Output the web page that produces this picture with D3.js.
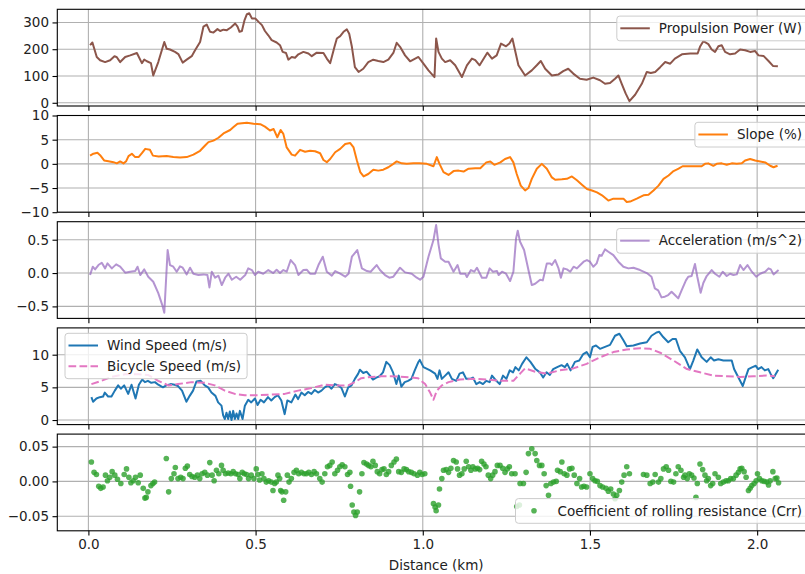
<!DOCTYPE html>
<html>
<head>
<meta charset="utf-8">
<script src="https://cdn.jsdelivr.net/npm/d3@7"></script>
<style>
  body { margin: 0; background: #fff; }
  svg text { font-family: "DejaVu Sans", sans-serif; fill: #222; }
</style>
</head>
<body>
<svg id="chart"></svg>
<script>
// ---- data, [distance km, value] ----
const powerData = [[0.005,215],[0.012,225],[0.025,171],[0.035,159],[0.05,152],[0.065,159],[0.078,174],[0.085,170],[0.095,152],[0.11,171],[0.125,177],[0.145,186],[0.16,148],[0.167,161],[0.175,155],[0.187,148],[0.194,102],[0.209,152],[0.227,227],[0.234,202],[0.244,199],[0.259,190],[0.269,182],[0.282,150],[0.294,161],[0.309,174],[0.319,196],[0.334,227],[0.344,284],[0.354,292],[0.364,265],[0.374,262],[0.386,275],[0.394,268],[0.404,273],[0.414,271],[0.426,281],[0.439,296],[0.446,284],[0.452,265],[0.459,268],[0.467,309],[0.474,331],[0.481,334],[0.489,315],[0.499,315],[0.509,302],[0.519,290],[0.528,268],[0.538,252],[0.548,234],[0.563,225],[0.573,215],[0.581,190],[0.591,186],[0.598,161],[0.608,171],[0.618,168],[0.628,181],[0.643,190],[0.658,184],[0.668,174],[0.683,187],[0.703,186],[0.713,165],[0.723,148],[0.736,209],[0.743,240],[0.753,249],[0.763,265],[0.773,274],[0.78,258],[0.788,209],[0.797,133],[0.808,115],[0.822,127],[0.837,152],[0.852,161],[0.867,156],[0.882,152],[0.897,161],[0.912,186],[0.922,224],[0.932,209],[0.947,177],[0.962,155],[0.987,171],[1.002,146],[1.017,121],[1.035,96],[1.04,240],[1.047,190],[1.057,165],[1.067,152],[1.082,159],[1.097,140],[1.117,96],[1.132,140],[1.147,165],[1.157,159],[1.17,140],[1.193,187],[1.207,165],[1.221,177],[1.234,221],[1.249,211],[1.259,221],[1.268,240],[1.286,140],[1.306,102],[1.326,121],[1.341,140],[1.353,156],[1.366,127],[1.386,102],[1.406,106],[1.42,118],[1.435,127],[1.45,109],[1.47,90],[1.49,86],[1.51,94],[1.53,84],[1.545,71],[1.56,74],[1.575,90],[1.585,102],[1.595,71],[1.607,34],[1.618,6],[1.635,30],[1.655,71],[1.67,115],[1.682,111],[1.695,115],[1.71,133],[1.725,152],[1.74,146],[1.754,165],[1.775,181],[1.8,184],[1.822,184],[1.829,209],[1.839,230],[1.854,219],[1.864,199],[1.874,190],[1.884,211],[1.894,215],[1.904,190],[1.919,181],[1.934,184],[1.949,199],[1.964,196],[1.979,190],[1.994,193],[2.004,177],[2.019,175],[2.034,156],[2.048,137],[2.062,136]];

const slopeData = [[0.005,1.7],[0.015,2.1],[0.027,2.3],[0.035,1.8],[0.047,0.7],[0.06,0.55],[0.075,0.35],[0.085,0.1],[0.095,0.5],[0.105,0.1],[0.113,0.55],[0.12,1.6],[0.13,2.1],[0.14,1.4],[0.15,1.4],[0.16,2.2],[0.17,3.1],[0.184,2.9],[0.193,1.7],[0.21,1.5],[0.234,1.6],[0.254,1.4],[0.274,1.3],[0.294,1.4],[0.314,1.9],[0.334,2.7],[0.349,3.8],[0.359,4.5],[0.374,4.8],[0.389,5.4],[0.404,6.3],[0.424,7.0],[0.434,7.6],[0.446,8.3],[0.459,8.4],[0.474,8.5],[0.494,8.3],[0.514,8.2],[0.528,7.7],[0.543,6.9],[0.554,7.2],[0.565,5.5],[0.575,7.0],[0.583,6.2],[0.593,3.4],[0.608,1.9],[0.618,1.7],[0.633,2.9],[0.648,2.5],[0.663,2.7],[0.678,2.6],[0.693,2.2],[0.703,0.8],[0.713,0.35],[0.723,1.0],[0.738,2.4],[0.753,3.1],[0.768,4.1],[0.783,4.3],[0.793,3.4],[0.803,0.7],[0.813,-1.7],[0.823,-2.6],[0.837,-2.1],[0.852,-1.2],[0.867,-1.4],[0.882,-1.2],[0.897,-0.7],[0.912,0],[0.922,0.5],[0.937,0.1],[0.952,0],[0.972,0.1],[0.99,0.1],[1.012,0],[1.032,-0.5],[1.042,1.4],[1.05,0],[1.062,-1.7],[1.077,-2.3],[1.092,-1.5],[1.107,-1.4],[1.122,-1.6],[1.137,-1.0],[1.157,-0.9],[1.172,-0.9],[1.19,0.3],[1.202,0.5],[1.214,-0.2],[1.232,0.3],[1.246,1.0],[1.261,1.4],[1.271,0.3],[1.281,-2.1],[1.293,-4.5],[1.306,-5.5],[1.316,-5.0],[1.326,-3.1],[1.341,-1.0],[1.356,0],[1.371,-1.0],[1.386,-2.8],[1.396,-3.3],[1.416,-3.2],[1.431,-3.1],[1.446,-2.6],[1.461,-3.4],[1.476,-4.3],[1.491,-5.2],[1.506,-5.5],[1.521,-5.9],[1.536,-6.5],[1.555,-7.6],[1.57,-7.2],[1.585,-7.2],[1.6,-7.2],[1.61,-7.9],[1.62,-7.8],[1.64,-7.2],[1.66,-6.5],[1.675,-6.4],[1.69,-5.5],[1.705,-4.5],[1.72,-3.1],[1.735,-2.4],[1.75,-1.5],[1.765,-1.0],[1.777,-0.5],[1.794,-0.5],[1.814,-0.5],[1.834,-0.5],[1.844,0],[1.854,0.1],[1.869,-0.4],[1.879,0],[1.894,0.1],[1.909,-0.2],[1.924,0.1],[1.939,0],[1.954,0.1],[1.964,0.7],[1.979,1.0],[1.994,0.7],[2.009,0.5],[2.024,0.3],[2.039,-0.4],[2.049,-0.7],[2.061,-0.4]];

const accelData = [[0.005,-0.03],[0.013,0.095],[0.02,0.055],[0.03,0.12],[0.04,0.155],[0.05,0.07],[0.057,0.145],[0.07,0.07],[0.083,0.13],[0.095,0.095],[0.11,0.005],[0.125,0.02],[0.14,0.03],[0.147,0.095],[0.155,-0.03],[0.167,0.055],[0.179,-0.055],[0.194,-0.13],[0.209,-0.3],[0.221,-0.48],[0.227,-0.595],[0.237,0.345],[0.244,0.12],[0.254,0.095],[0.264,0.02],[0.274,0.1],[0.282,0.08],[0.294,-0.02],[0.304,0.08],[0.314,-0.01],[0.329,-0.03],[0.344,-0.02],[0.356,-0.03],[0.362,-0.215],[0.369,0.02],[0.379,-0.07],[0.389,-0.04],[0.399,-0.18],[0.409,-0.07],[0.419,-0.01],[0.429,-0.1],[0.442,-0.055],[0.454,-0.1],[0.469,-0.03],[0.478,0.07],[0.489,0.045],[0.498,-0.03],[0.508,0.02],[0.523,-0.01],[0.538,0.045],[0.553,0],[0.563,0.05],[0.573,0],[0.583,0.045],[0.593,0.02],[0.605,0.195],[0.618,0.12],[0.628,-0.03],[0.643,0.045],[0.653,0.05],[0.663,-0.01],[0.678,-0.01],[0.688,0.12],[0.701,0.245],[0.713,0.02],[0.728,-0.04],[0.738,0.03],[0.753,-0.01],[0.768,-0.055],[0.778,-0.01],[0.788,0.245],[0.804,0.345],[0.818,0.07],[0.833,0.03],[0.844,0.02],[0.862,0.12],[0.872,0.045],[0.887,-0.03],[0.9,-0.07],[0.912,-0.055],[0.932,0.08],[0.947,0.01],[0.967,-0.01],[0.982,-0.07],[0.992,-0.1],[1.002,-0.055],[1.017,0.245],[1.032,0.495],[1.04,0.72],[1.047,0.43],[1.054,0.22],[1.067,0.17],[1.077,0.17],[1.092,0.02],[1.104,0.12],[1.112,-0.01],[1.127,-0.01],[1.132,-0.06],[1.144,0.045],[1.154,0.02],[1.162,0.08],[1.177,-0.07],[1.19,-0.07],[1.2,0.07],[1.21,0.02],[1.222,0.03],[1.227,-0.03],[1.237,0.02],[1.249,-0.01],[1.261,-0.12],[1.271,0.02],[1.279,0.52],[1.284,0.635],[1.291,0.47],[1.303,0.345],[1.316,0.045],[1.326,-0.18],[1.336,-0.16],[1.351,-0.1],[1.359,-0.11],[1.371,0.145],[1.381,0.145],[1.386,0.12],[1.396,0.195],[1.406,0.07],[1.413,-0.07],[1.421,0.07],[1.431,0.055],[1.441,0.02],[1.451,0.095],[1.461,0.07],[1.471,0.12],[1.481,0.17],[1.491,0.195],[1.5,0.17],[1.51,0.095],[1.52,0.145],[1.528,0.27],[1.535,0.26],[1.545,0.355],[1.555,0.32],[1.57,0.27],[1.585,0.17],[1.6,0.095],[1.615,0.07],[1.63,0.08],[1.65,0.045],[1.67,0],[1.684,-0.055],[1.694,-0.23],[1.704,-0.26],[1.714,-0.365],[1.724,-0.355],[1.734,-0.33],[1.744,-0.28],[1.754,-0.33],[1.764,-0.38],[1.774,-0.26],[1.787,-0.11],[1.794,-0.055],[1.804,-0.045],[1.814,0.135],[1.821,-0.055],[1.831,-0.295],[1.839,-0.15],[1.849,-0.045],[1.864,0.045],[1.874,-0.01],[1.887,-0.055],[1.897,0.02],[1.909,-0.045],[1.919,-0.01],[1.929,-0.03],[1.939,-0.02],[1.949,0.12],[1.959,0.045],[1.971,0.12],[1.984,0.02],[1.997,-0.055],[2.009,-0.01],[2.024,0.02],[2.034,0.07],[2.041,0.055],[2.049,-0.02],[2.064,0.045]];

const windData = [[0.009,3.5],[0.014,2.8],[0.024,3.3],[0.034,3.5],[0.044,3.6],[0.049,4.2],[0.059,3.6],[0.069,3.6],[0.079,4.5],[0.089,5.3],[0.097,4.8],[0.107,5.3],[0.119,4.0],[0.129,5.4],[0.141,3.3],[0.151,5.4],[0.161,6.2],[0.169,5.8],[0.178,6.0],[0.188,5.7],[0.199,5.8],[0.209,5.4],[0.223,5.0],[0.233,5.3],[0.246,5.5],[0.258,5.4],[0.268,5.2],[0.28,4.5],[0.293,2.8],[0.303,3.7],[0.313,4.5],[0.323,5.9],[0.336,6.0],[0.348,5.3],[0.358,5.0],[0.368,4.2],[0.38,3.7],[0.388,2.7],[0.398,2.2],[0.403,0.7],[0.408,0.15],[0.413,1.1],[0.418,0.15],[0.423,1.3],[0.428,0.0],[0.433,1.4],[0.438,0.15],[0.443,1.0],[0.448,0.15],[0.453,1.4],[0.461,0.15],[0.468,2.2],[0.478,3.1],[0.487,2.7],[0.498,3.3],[0.506,2.3],[0.515,3.1],[0.525,2.7],[0.537,3.5],[0.547,3.0],[0.557,3.5],[0.567,3.8],[0.577,3.0],[0.587,0.9],[0.595,3.0],[0.607,2.7],[0.619,3.9],[0.627,3.2],[0.637,4.2],[0.647,3.8],[0.657,4.3],[0.667,4.0],[0.677,4.6],[0.687,4.2],[0.697,4.5],[0.707,5.0],[0.717,5.3],[0.727,4.8],[0.737,5.5],[0.747,5.3],[0.757,4.9],[0.767,3.6],[0.777,5.0],[0.787,5.3],[0.797,6.3],[0.807,7.1],[0.812,7.7],[0.822,7.2],[0.832,7.4],[0.842,6.8],[0.851,6.2],[0.861,6.5],[0.871,6.7],[0.881,7.3],[0.891,8.9],[0.901,8.4],[0.911,7.3],[0.921,5.5],[0.928,6.8],[0.936,5.1],[0.946,5.8],[0.956,6.0],[0.966,6.3],[0.976,7.6],[0.986,8.8],[0.991,9.2],[1.002,8.1],[1.022,7.6],[1.037,7.1],[1.044,6.3],[1.05,7.6],[1.057,6.3],[1.067,6.8],[1.077,7.3],[1.087,6.3],[1.1,6.0],[1.11,7.1],[1.12,7.3],[1.13,6.3],[1.142,6.3],[1.15,6.5],[1.16,5.5],[1.17,5.8],[1.18,5.5],[1.19,6.0],[1.2,5.8],[1.207,6.8],[1.22,6.0],[1.23,5.5],[1.24,6.8],[1.25,6.3],[1.26,7.6],[1.27,7.3],[1.277,8.1],[1.287,7.6],[1.297,8.6],[1.31,9.6],[1.322,8.9],[1.337,7.8],[1.35,7.3],[1.36,6.5],[1.37,7.3],[1.38,6.9],[1.39,7.8],[1.402,8.1],[1.415,8.4],[1.425,8.1],[1.432,8.6],[1.442,7.6],[1.455,8.9],[1.468,9.1],[1.48,10.1],[1.49,10.4],[1.5,9.6],[1.508,11.2],[1.518,11.4],[1.53,10.9],[1.545,11.2],[1.56,11.5],[1.575,12.9],[1.588,13.2],[1.6,12.2],[1.61,11.3],[1.63,11.4],[1.65,11.7],[1.67,11.9],[1.684,12.9],[1.699,13.4],[1.707,13.5],[1.719,12.7],[1.734,11.9],[1.747,12.4],[1.757,12.4],[1.769,10.6],[1.784,9.6],[1.799,7.8],[1.809,9.1],[1.821,10.8],[1.834,9.6],[1.849,8.9],[1.861,9.6],[1.871,9.1],[1.884,9.3],[1.899,9.1],[1.924,9.1],[1.931,7.8],[1.944,6.5],[1.957,5.2],[1.964,6.3],[1.974,7.8],[1.986,8.1],[1.996,8.3],[2.003,7.8],[2.013,8.1],[2.023,7.6],[2.033,7.8],[2.04,7.1],[2.048,6.4],[2.053,6.8],[2.063,7.7]];

const bikeData = [[0.009,5.5],[0.039,6.0],[0.069,6.6],[0.109,7.0],[0.149,7.0],[0.178,6.9],[0.209,6.0],[0.239,5.3],[0.268,5.5],[0.308,5.8],[0.348,5.7],[0.378,5.3],[0.408,4.5],[0.438,4.0],[0.468,3.8],[0.508,3.8],[0.547,3.9],[0.587,4.0],[0.627,4.5],[0.667,4.9],[0.707,5.4],[0.747,5.3],[0.777,5.3],[0.797,5.8],[0.816,6.4],[0.846,6.6],[0.876,6.7],[0.906,6.7],[0.946,6.6],[0.986,6.4],[1.007,5.5],[1.022,4.2],[1.032,3.1],[1.042,4.5],[1.057,5.3],[1.077,5.8],[1.112,6.2],[1.152,6.3],[1.192,6.2],[1.231,6.0],[1.271,6.0],[1.291,7.1],[1.306,7.9],[1.336,7.4],[1.37,7.1],[1.41,7.6],[1.45,7.9],[1.49,8.6],[1.53,9.6],[1.57,10.4],[1.61,10.8],[1.65,11.0],[1.68,10.9],[1.71,10.3],[1.75,9.1],[1.79,7.8],[1.829,7.3],[1.869,6.8],[1.909,6.7],[1.949,6.6],[1.989,6.7],[2.028,6.8],[2.053,6.7]];

const crrData = [[0.009,0.028],[0.017,0.013],[0.024,0.010],[0.031,-0.007],[0.037,-0.010],[0.044,-0.008],[0.051,0.009],[0.057,0.001],[0.064,0.006],[0.071,0.014],[0.079,0.009],[0.087,0.003],[0.097,-0.003],[0.107,0.010],[0.114,0.018],[0.121,0.006],[0.127,-0.002],[0.134,0.001],[0.141,0.006],[0.149,-0.002],[0.155,0.009],[0.164,-0.010],[0.169,-0.024],[0.173,-0.023],[0.178,-0.015],[0.187,-0.006],[0.193,-0.003],[0.198,-0.001],[0.233,0.033],[0.240,-0.015],[0.248,0.004],[0.256,0.011],[0.260,0.020],[0.268,0.004],[0.276,0.006],[0.283,0.004],[0.290,0.019],[0.296,0.022],[0.303,0.010],[0.310,0.007],[0.318,0.006],[0.326,0.009],[0.333,0.004],[0.340,0.011],[0.348,0.013],[0.356,0.009],[0.363,0.027],[0.370,0.009],[0.376,0.001],[0.383,0.016],[0.390,0.011],[0.398,0.023],[0.403,0.016],[0.410,0.011],[0.418,0.012],[0.426,0.011],[0.433,0.014],[0.440,0.011],[0.448,0.010],[0.453,0.004],[0.460,0.013],[0.466,0.011],[0.473,0.010],[0.479,0.004],[0.487,0.009],[0.495,0.004],[0.502,0.018],[0.507,0.010],[0.512,0.002],[0.519,0.011],[0.525,0.004],[0.532,-0.001],[0.539,0.001],[0.547,-0.001],[0.552,-0.013],[0.557,-0.003],[0.562,-0.001],[0.567,0.009],[0.572,0.004],[0.575,-0.013],[0.579,-0.015],[0.584,-0.027],[0.590,-0.015],[0.595,0.009],[0.600,-0.001],[0.607,0.004],[0.615,0.013],[0.622,0.016],[0.629,0.011],[0.637,0.013],[0.645,0.011],[0.652,0.011],[0.659,0.013],[0.667,0.010],[0.675,0.014],[0.682,0.011],[0.692,0.004],[0.699,-0.001],[0.707,0.011],[0.715,0.021],[0.722,0.023],[0.729,0.028],[0.737,0.011],[0.745,0.016],[0.752,0.021],[0.759,0.024],[0.767,0.021],[0.775,0.010],[0.782,0.013],[0.784,-0.007],[0.789,-0.034],[0.794,-0.044],[0.799,-0.049],[0.804,-0.044],[0.811,-0.015],[0.818,0.011],[0.824,0.027],[0.832,0.025],[0.838,0.023],[0.845,0.021],[0.851,0.029],[0.858,0.023],[0.864,0.014],[0.871,0.011],[0.878,0.017],[0.884,0.018],[0.891,0.010],[0.898,0.014],[0.906,0.023],[0.914,0.028],[0.921,0.032],[0.928,0.014],[0.936,0.013],[0.944,0.018],[0.951,0.017],[0.958,0.014],[0.966,0.013],[0.974,0.011],[0.984,0.009],[0.991,0.013],[0.998,0.010],[1.006,0.011],[1.032,-0.032],[1.037,-0.037],[1.040,-0.042],[1.047,-0.034],[1.050,-0.011],[1.057,0.004],[1.062,0.016],[1.070,0.017],[1.077,0.013],[1.084,0.019],[1.092,0.030],[1.100,0.028],[1.104,0.018],[1.110,0.009],[1.117,0.011],[1.124,0.018],[1.130,0.029],[1.137,0.021],[1.144,0.016],[1.150,0.021],[1.157,0.018],[1.164,0.019],[1.170,0.017],[1.176,0.029],[1.183,0.025],[1.189,0.021],[1.196,0.009],[1.203,0.004],[1.209,0.009],[1.216,0.014],[1.223,0.023],[1.231,0.023],[1.239,0.019],[1.246,0.013],[1.253,0.018],[1.259,0.021],[1.266,0.011],[1.276,0.011],[1.281,-0.036],[1.289,-0.034],[1.291,-0.003],[1.301,-0.003],[1.309,0.013],[1.316,0.040],[1.326,0.047],[1.336,0.040],[1.341,0.030],[1.349,0.023],[1.356,0.023],[1.363,0.011],[1.369,-0.006],[1.376,-0.020],[1.383,-0.003],[1.391,-0.001],[1.399,0.000],[1.403,0.016],[1.411,0.014],[1.416,0.028],[1.423,0.011],[1.431,0.009],[1.439,0.018],[1.446,0.019],[1.453,0.009],[1.461,-0.003],[1.469,0.004],[1.475,-0.008],[1.482,-0.007],[1.490,-0.008],[1.500,0.011],[1.508,0.004],[1.515,0.001],[1.522,0.000],[1.530,-0.006],[1.538,-0.008],[1.548,-0.010],[1.555,-0.014],[1.562,-0.011],[1.570,-0.018],[1.575,-0.025],[1.580,-0.020],[1.588,-0.013],[1.595,-0.001],[1.602,0.009],[1.610,0.021],[1.618,0.011],[1.660,0.010],[1.670,0.009],[1.680,-0.003],[1.688,-0.001],[1.695,0.010],[1.705,-0.001],[1.712,0.004],[1.720,0.018],[1.728,0.021],[1.735,0.016],[1.742,0.000],[1.750,-0.001],[1.757,0.011],[1.764,0.021],[1.772,0.016],[1.780,0.006],[1.784,0.009],[1.791,0.004],[1.797,0.011],[1.804,0.009],[1.811,0.005],[1.817,-0.023],[1.821,-0.003],[1.829,0.025],[1.837,0.017],[1.844,0.009],[1.849,0.001],[1.854,0.004],[1.861,-0.006],[1.867,-0.003],[1.874,0.011],[1.884,0.006],[1.891,-0.003],[1.899,-0.001],[1.907,0.001],[1.914,0.001],[1.921,0.004],[1.929,0.004],[1.937,0.009],[1.944,0.013],[1.949,0.018],[1.954,0.019],[1.961,0.014],[1.967,0.006],[1.974,-0.013],[1.979,-0.010],[1.984,-0.006],[1.991,-0.003],[1.997,0.001],[2.001,0.011],[2.007,0.004],[2.014,0.001],[2.021,0.000],[2.029,-0.001],[2.034,-0.005],[2.039,0.001],[2.047,0.014],[2.054,0.004],[2.059,0.005],[2.064,-0.002]];

// ticks
const xTicks = [0, 0.5, 1, 1.5, 2];
const powerTicks = [0, 100, 200, 300];
const slopeTicks = [-10, -5, 0, 5, 10];
const accelTicks = [-0.5, 0, 0.5];
const speedTicks = [0, 5, 10];
const crrTicks = [-0.05, 0, 0.05];

// ---- layout ----
const width = 805, height = 574;
const plotLeft = 57.3, plotRight = 815;
const panelTop0 = 9.3, panelStep = 106.2, panelH = 96.7;
const fontSize = 13.5;

const svg = d3.select('#chart')
    .attr('width', width)
    .attr('height', height);

const xScale = d3.scaleLinear()
    .domain([-0.093, 2.173])
    .range([plotLeft, plotRight]);

const panels = [
  {domain: [-12, 349], ticks: powerTicks, fmt: d3.format('d'), legendPos: 'ur',
   series: [{data: powerData, color: '#8c564b', label: 'Propulsion Power (W)', kind: 'line'}]},
  {domain: [-10, 10], ticks: slopeTicks, fmt: d3.format('d'), legendPos: 'ur',
   series: [{data: slopeData, color: '#ff7f0e', label: 'Slope (%)', kind: 'line'}]},
  {domain: [-0.68, 0.77], ticks: accelTicks, fmt: d3.format('.1f'), legendPos: 'ur',
   series: [{data: accelData, color: '#9467bd', opacity: 0.7, label: 'Acceleration (m/s^2)', kind: 'line'}]},
  {domain: [-0.7, 14.1], ticks: speedTicks, fmt: d3.format('d'), legendPos: 'ul',
   series: [{data: windData, color: '#1f77b4', label: 'Wind Speed (m/s)', kind: 'line'},
            {data: bikeData, color: '#e377c2', label: 'Bicycle Speed (m/s)', kind: 'dash'}]},
  {domain: [-0.071, 0.068], ticks: crrTicks, fmt: d3.format('.2f'), legendPos: 'lr',
   series: [{data: crrData, color: '#2ca02c', opacity: 0.8, label: 'Coefficient of rolling resistance (Crr)', kind: 'dot'}]}
];

panels.forEach((p, i) => {
  const top = panelTop0 + i * panelStep;
  const bottom = top + panelH;
  const yScale = d3.scaleLinear().domain(p.domain).range([bottom, top]);
  const g = svg.append('g');

  // clip
  g.append('clipPath').attr('id', 'clip' + i)
    .append('rect')
      .attr('x', plotLeft).attr('y', top)
      .attr('width', plotRight - plotLeft).attr('height', panelH);

  // grid
  g.append('g').selectAll('line.vg').data(xTicks).join('line')
      .attr('x1', d => xScale(d)).attr('x2', d => xScale(d))
      .attr('y1', top).attr('y2', bottom)
      .attr('stroke', '#b0b0b0').attr('stroke-width', 1.1);
  g.append('g').selectAll('line.hg').data(p.ticks).join('line')
      .attr('x1', plotLeft).attr('x2', plotRight)
      .attr('y1', d => yScale(d)).attr('y2', d => yScale(d))
      .attr('stroke', '#b0b0b0').attr('stroke-width', 1.1);

  // marks
  const marks = g.append('g').attr('clip-path', `url(#clip${i})`);
  p.series.forEach(s => {
    if (s.kind === 'dot') {
      marks.selectAll('circle').data(s.data).join('circle')
          .attr('cx', d => xScale(d[0]))
          .attr('cy', d => yScale(d[1]))
          .attr('r', 2.8)
          .attr('fill', s.color)
          .attr('fill-opacity', s.opacity || 1);
    } else {
      const line = d3.line().x(d => xScale(d[0])).y(d => yScale(d[1]));
      marks.append('path')
          .datum(s.data)
          .attr('d', line)
          .attr('fill', 'none')
          .attr('stroke', s.color)
          .attr('stroke-opacity', s.opacity || 1)
          .attr('stroke-width', 2)
          .attr('stroke-linejoin', 'round')
          .attr('stroke-dasharray', s.kind === 'dash' ? '7.7,3.3' : null);
    }
  });

  // frame
  g.append('rect')
      .attr('x', plotLeft).attr('y', top)
      .attr('width', plotRight - plotLeft).attr('height', panelH)
      .attr('fill', 'none').attr('stroke', '#000').attr('stroke-width', 1.1);

  // y axis
  const yAxis = d3.axisLeft(yScale)
      .tickValues(p.ticks).tickFormat(p.fmt)
      .tickSize(4.8).tickPadding(3.5);
  const yg = g.append('g').attr('transform', `translate(${plotLeft},0)`).call(yAxis);
  yg.select('.domain').remove();
  yg.selectAll('.tick line').attr('stroke', '#000').attr('stroke-width', 1.1);
  yg.selectAll('.tick text').style('font-size', fontSize + 'px').attr('fill', '#222');

  // x axis (ticks on every panel, labels only on the last)
  const xAxis = d3.axisBottom(xScale)
      .tickValues(xTicks).tickFormat(i === panels.length - 1 ? d3.format('.1f') : '')
      .tickSize(4.8).tickPadding(3.5);
  const xg = g.append('g').attr('transform', `translate(0,${bottom})`).call(xAxis);
  xg.select('.domain').remove();
  xg.selectAll('.tick line').attr('stroke', '#000').attr('stroke-width', 1.1);
  xg.selectAll('.tick text').style('font-size', fontSize + 'px').attr('fill', '#222');

  // legend
  const lg = g.append('g');
  const box = lg.append('rect')
      .attr('fill', '#fff').attr('fill-opacity', 0.8)
      .attr('stroke', '#cccccc').attr('stroke-width', 1).attr('rx', 3);
  const rowH = 20.7;
  let maxW = 0;
  p.series.forEach((s, k) => {
    const cy = 12.2 + k * rowH;
    if (s.kind === 'dot') {
      lg.append('circle').attr('cx', 18.5).attr('cy', cy).attr('r', 2.8)
          .attr('fill', s.color).attr('fill-opacity', s.opacity || 1);
    } else {
      lg.append('line').attr('x1', 3.5).attr('x2', 33).attr('y1', cy).attr('y2', cy)
          .attr('stroke', s.color).attr('stroke-opacity', s.opacity || 1)
          .attr('stroke-width', 2)
          .attr('stroke-dasharray', s.kind === 'dash' ? '7.7,3.3' : null);
    }
    const t = lg.append('text').attr('x', 42).attr('y', cy).attr('dy', '0.35em')
        .style('font-size', fontSize + 'px').text(s.label);
    maxW = Math.max(maxW, t.node().getComputedTextLength());
  });
  const boxW = 42 + maxW + 6;
  const boxH = 4 + p.series.length * rowH;
  box.attr('width', boxW).attr('height', boxH);
  let lx, ly;
  if (p.legendPos === 'ur') { lx = plotRight - 7 - boxW; ly = top + 6.8; }
  else if (p.legendPos === 'ul') { lx = plotLeft + 7.7; ly = top + 5.4; }
  else { lx = plotRight - 7 - boxW; ly = bottom - 7.5 - boxH; }
  lg.attr('transform', `translate(${lx},${ly})`);
});

// x label
svg.append('text')
    .attr('x', (plotLeft + plotRight) / 2)
    .attr('y', 570)
    .attr('text-anchor', 'middle')
    .style('font-size', fontSize + 'px')
    .text('Distance (km)');
</script>
</body>
</html>
